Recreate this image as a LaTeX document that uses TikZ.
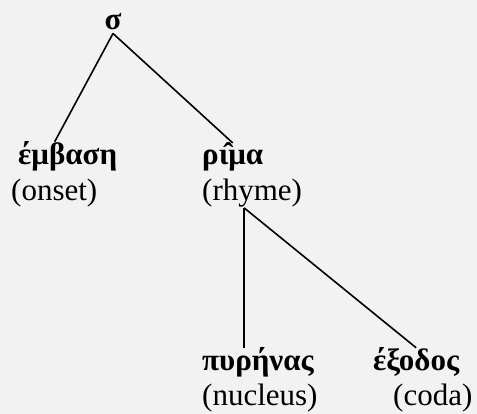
\documentclass[tikz,border=0pt]{standalone}
\usepackage{fontspec}
\setmainfont{Liberation Serif}
\definecolor{bgc}{HTML}{F2F2F2}
\begin{document}
\begin{tikzpicture}[x=1pt,y=1pt,
  lbl/.style={inner sep=0pt, anchor=base west, font=\fontsize{31}{36}\selectfont},
  glbl/.style={lbl, font=\fontsize{31}{36}\selectfont\bfseries},
  edge/.style={draw=black, line width=1.6pt}]
\fill[bgc] (0,0) rectangle (477,414);
\useasboundingbox (0,0) rectangle (477,414);
\node[glbl, anchor=base] (sigma) at (113,384) {σ};
\node[glbl] (embasi) at (18,249) {έμβαση};
\node[lbl] (onset) at (11,213) {(onset)};
\node[glbl] (rima) at (202,249) {ρι̂μα};
\node[lbl] (rhyme) at (202,213) {(rhyme)};
\node[glbl] (pyrinas) at (202,43) {πυρήνας};
\node[lbl] (nucleus) at (202,8) {(nucleus)};
\node[glbl] (exodos) at (373,43) {έξοδος};
\node[lbl] (coda) at (393,8) {(coda)};
\coordinate (top) at ([yshift=-3pt]sigma.south);
\coordinate (rj) at ([xshift=-8pt]rhyme.south);
\draw[edge] (top) -- ([xshift=-13pt]embasi.north);
\draw[edge] (top) -- (rima.north);
\draw[edge] (rj) -- (rj |- pyrinas.north);
\draw[edge] (rj) -- (exodos.north);
\end{tikzpicture}
\end{document}
